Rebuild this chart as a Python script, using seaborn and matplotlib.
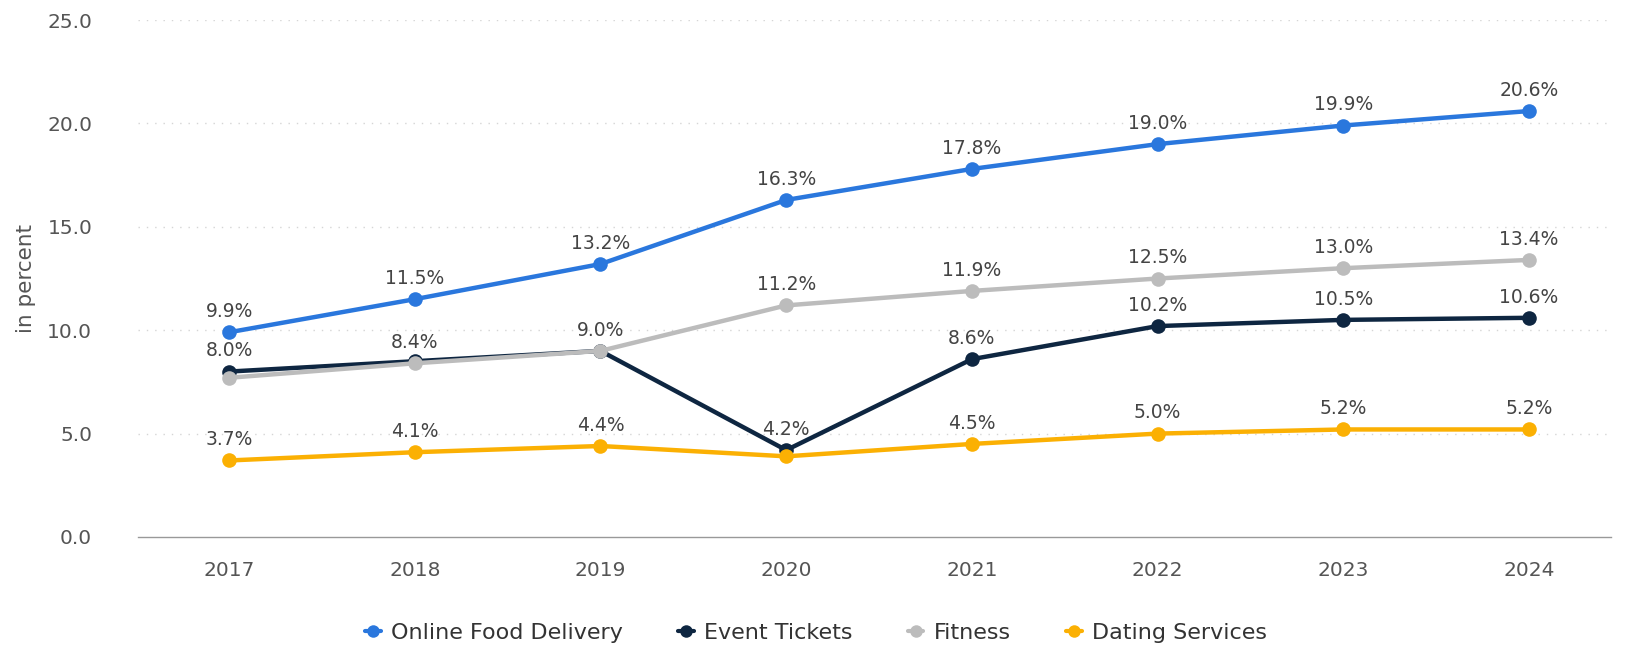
import pandas as pd
import seaborn as sns
import matplotlib.pyplot as plt
from matplotlib.lines import Line2D

# data
years = [2017, 2018, 2019, 2020, 2021, 2022, 2023, 2024]
series_names = ['Online Food Delivery', 'Event Tickets', 'Fitness', 'Dating Services']
food_delivery = [9.9, 11.5, 13.2, 16.3, 17.8, 19.0, 19.9, 20.6]
event_tickets = [8.0, 8.5, 9.0, 4.2, 8.6, 10.2, 10.5, 10.6]
fitness = [7.7, 8.4, 9.0, 11.2, 11.9, 12.5, 13.0, 13.4]
dating = [3.7, 4.1, 4.4, 3.9, 4.5, 5.0, 5.2, 5.2]
# labels shown on the chart (overlapping ones are hidden)
food_labels = ['9.9%', '11.5%', '13.2%', '16.3%', '17.8%', '19.0%', '19.9%', '20.6%']
event_labels = ['8.0%', '', '', '4.2%', '8.6%', '10.2%', '10.5%', '10.6%']
fitness_labels = ['', '8.4%', '9.0%', '11.2%', '11.9%', '12.5%', '13.0%', '13.4%']
dating_labels = ['3.7%', '4.1%', '4.4%', '', '4.5%', '5.0%', '5.2%', '5.2%']

colors = ['#2a77dd', '#0e2641', '#bcbcbc', '#fbb003']

values = [food_delivery, event_tickets, fitness, dating]
labels = [food_labels, event_labels, fitness_labels, dating_labels]

rows = []
for name, vals in zip(series_names, values):
    for i, v in enumerate(vals):
        rows.append({'pos': i, 'series': name, 'value': v})
df = pd.DataFrame(rows)

sns.set_style('white')
plt.rcParams['font.family'] = ['DejaVu Sans']

fig = plt.figure(figsize=(16.32, 6.49), dpi=100)
ax = fig.add_axes([0.0846, 0.1726, 0.9024, 0.7965])

sns.lineplot(data=df, x='pos', y='value', hue='series', hue_order=series_names,
             palette=colors, marker='o', markersize=10.5, markeredgewidth=0,
             linewidth=3.2, ax=ax, legend=False)

# data labels
for vals, labs in zip(values, labels):
    for i, (v, t) in enumerate(zip(vals, labs)):
        if t:
            ax.annotate(t, (i, v), xytext=(0, 8), textcoords='offset points',
                        ha='center', va='bottom', fontsize=13.5, color='#444444')

ax.set_xlim(-0.49, 7.44)
ax.set_ylim(0, 25)
ax.set_xticks(range(len(years)))
ax.set_xticklabels([str(y) for y in years])
ax.set_yticks([0, 5, 10, 15, 20, 25])
ax.set_yticklabels(['0.0', '5.0', '10.0', '15.0', '20.0', '25.0'])
ax.tick_params(axis='both', length=0, labelsize=14.5, colors='#555555')
ax.tick_params(axis='x', pad=17)
ax.tick_params(axis='y', pad=33)

for y in [5, 10, 15, 20, 25]:
    ax.axhline(y, color='#d5d5d5', linestyle=(0, (1, 5)), linewidth=1, zorder=0)

for s in ['top', 'right', 'left']:
    ax.spines[s].set_visible(False)
ax.spines['bottom'].set_color('#999999')
ax.spines['bottom'].set_linewidth(1)

ax.set_xlabel('')
ax.set_ylabel('in percent', fontsize=15.5, color='#555555', va='center')
ax.yaxis.set_label_coords(-0.076, 0.5)

handles = [Line2D([], [], linestyle='-', linewidth=3, marker='o', markersize=9,
                  markeredgewidth=0, color=c) for c in colors]
fig.legend(handles, series_names, loc='center', bbox_to_anchor=(0.5, 0.025), ncol=4,
           frameon=False, fontsize=16, handlelength=0.7, columnspacing=2.5,
           handletextpad=0.45, labelcolor='#333333')

plt.savefig('out.png', dpi=100)
